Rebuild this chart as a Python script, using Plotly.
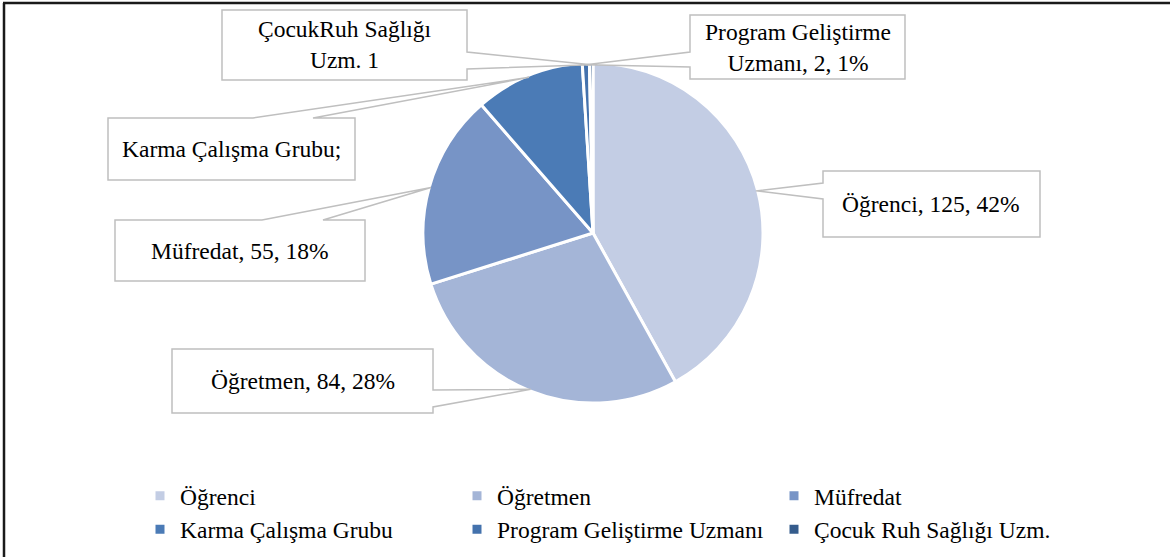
import math
import plotly.graph_objects as go

W, H = 1170, 557

# ---- data ----
categories = ["Öğrenci", "Öğretmen", "Müfredat", "Karma Çalışma Grubu",
              "Program Geliştirme Uzmanı", "Çocuk Ruh Sağlığı Uzm."]
values = [125, 84, 55, 31, 2, 1]
colors = ["#C3CDE4", "#A4B5D7", "#7794C6", "#4B7BB6", "#4472AD", "#355C8C"]
label_texts = ["Öğrenci, 125, 42%", "Öğretmen, 84, 28%", "Müfredat, 55, 18%",
               "Karma Çalışma Grubu;", "Program Geliştirme<br>Uzmanı, 2, 1%",
               "ÇocukRuh Sağlığı<br>Uzm. 1"]

# ---- layout (pixels) ----
CX, CY, R = 593, 233, 170
# box: x0, y0, x1, y1, side, attach a, attach b
boxes = [
    (823, 171, 1040, 237, "left", 183, 199),
    (172, 349, 433, 413, "right", 390, 407),
    (115, 220, 365, 281, "top", 262, 323),
    (108, 118, 355, 180, "top", 253, 313),
    (690, 15, 905, 79, "left", 52, 67),
    (222, 10, 467, 80, "right", 52, 69),
]

FONT = "Liberation Serif, Times New Roman, serif"


def px(x):
    return x / W


def py(y):
    return 1 - y / H


fig = go.Figure(go.Pie(
    labels=categories, values=values, sort=False, direction="clockwise",
    rotation=0, textinfo="none", hoverinfo="label+value+percent",
    marker=dict(colors=colors, line=dict(color="white", width=3)),
    domain=dict(x=[px(CX - R), px(CX + R)], y=[py(CY + R), py(CY - R)]),
))

# callouts: tip at each slice's mid angle on the pie edge
total = sum(values)
cum = 0
shapes = []
annotations = []
for v, txt, b in zip(values, label_texts, boxes):
    mid = (cum + v / 2) / total * 2 * math.pi
    cum += v
    tx = CX + 0.99 * R * math.sin(mid)
    ty = CY - 0.99 * R * math.cos(mid)
    x0, y0, x1, y1, side, a, c = b
    if side == "left":
        pts = [(x0, y0), (x1, y0), (x1, y1), (x0, y1), (x0, c), (tx, ty), (x0, a)]
    elif side == "right":
        pts = [(x0, y0), (x1, y0), (x1, a), (tx, ty), (x1, c), (x1, y1), (x0, y1)]
    else:  # top
        pts = [(x0, y0), (a, y0), (tx, ty), (c, y0), (x1, y0), (x1, y1), (x0, y1)]
    path = "M " + " L ".join(f"{px(x):.5f},{py(y):.5f}" for x, y in pts) + " Z"
    shapes.append(dict(type="path", xref="paper", yref="paper", path=path,
                       line=dict(color="#BFBFBF", width=1.5),
                       fillcolor="rgba(0,0,0,0)"))
    annotations.append(dict(xref="paper", yref="paper",
                            x=px((x0 + x1) / 2), y=py((y0 + y1) / 2),
                            xanchor="center", yanchor="middle",
                            text=txt, showarrow=False,
                            font=dict(family=FONT, size=23.5, color="black")))

# outer frame (top and left edges)
shapes.append(dict(type="line", xref="paper", yref="paper",
                   x0=px(3), x1=1, y0=py(3), y1=py(3),
                   line=dict(color="#1a1a1a", width=2.5)))
shapes.append(dict(type="line", xref="paper", yref="paper",
                   x0=px(4), x1=px(4), y0=py(3), y1=0,
                   line=dict(color="#1a1a1a", width=2.5)))

fig.update_layout(
    width=W, height=H,
    margin=dict(l=0, r=0, t=0, b=0, autoexpand=False),
    paper_bgcolor="white", plot_bgcolor="white",
    font=dict(family=FONT, size=23.5, color="black"),
    shapes=shapes, annotations=annotations,
    showlegend=True,
    legend=dict(orientation="h", x=px(140), xanchor="left",
                y=py(474), yanchor="top",
                entrywidth=272, entrywidthmode="pixels",
                traceorder="normal", itemclick=False,
                font=dict(family=FONT, size=23.5, color="black"),
                bgcolor="rgba(0,0,0,0)"),
)

fig.write_html("out.html", config={"displayModeBar": False},
               post_script="document.body.style.margin='0';document.body.style.overflow='hidden';")
